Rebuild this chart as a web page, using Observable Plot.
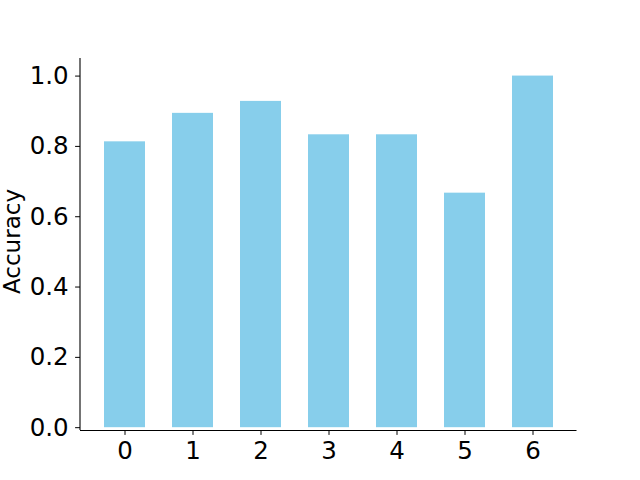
<!DOCTYPE html>
<html>
<head>
<meta charset="utf-8">
<script src="https://cdn.jsdelivr.net/npm/d3@7"></script>
<script src="https://cdn.jsdelivr.net/npm/@observablehq/plot@0.6"></script>
<style>
  body { margin: 0; background: #fff; }
</style>
</head>
<body>
<div id="chart"></div>
<script>
const categories = ["0", "1", "2", "3", "4", "5", "6"];
const accuracy = [0.813, 0.894, 0.928, 0.833, 0.833, 0.667, 1.0];
const yTicks = [0, 0.2, 0.4, 0.6, 0.8, 1.0];
const yLabel = "Accuracy";

const data = categories.map((c, i) => ({cat: c, acc: accuracy[i]}));

const font = "DejaVu Sans, sans-serif";
const fs = 24.5;

const chart = Plot.plot({
  width: 640,
  height: 480,
  marginLeft: 80,
  marginRight: 63.5,
  marginTop: 58,
  marginBottom: 50,
  style: {fontFamily: font, fontSize: fs + "px", background: "#fff", color: "#000"},
  x: {domain: categories, paddingInner: 0.4, paddingOuter: 0.336},
  y: {domain: [-0.008, 1.05]},
  marks: [
    Plot.barY(data, {x: "cat", y: "acc", fill: "#87CEEB"}),
    Plot.axisX({tickSize: 4.9, tickPadding: 6, fontSize: fs, label: null, stroke: "#000"}),
    Plot.axisY({ticks: yTicks, tickFormat: d3.format(".1f"), tickSize: 4.9, tickPadding: 7, fontSize: fs, label: null}),
    Plot.ruleY([-0.008], {stroke: "#000", strokeWidth: 1.1}),
    Plot.text([yLabel], {frameAnchor: "left", dx: -68, dy: -3, rotate: -90, textAnchor: "middle", fontSize: 23, fill: "#000", text: d => d})
  ]
});

// left spine
const svg = d3.select(chart);
svg.append("line")
  .attr("x1", 80).attr("x2", 80)
  .attr("y1", 58).attr("y2", 430)
  .attr("stroke", "#000").attr("stroke-width", 1.1);

document.getElementById("chart").appendChild(chart);
</script>
</body>
</html>
